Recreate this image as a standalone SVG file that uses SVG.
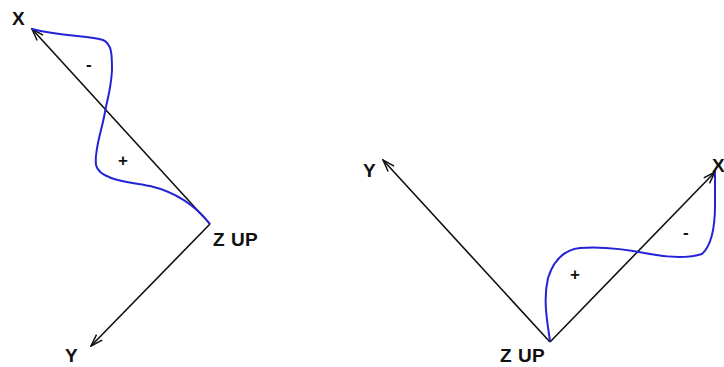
<svg xmlns="http://www.w3.org/2000/svg" width="724" height="367" viewBox="0 0 724 367">
<defs>
<marker id="arr" viewBox="0 0 14 10" refX="13" refY="5" markerWidth="14" markerHeight="10" markerUnits="userSpaceOnUse" orient="auto">
<path d="M1,1 L13,5 L1,9" fill="none" stroke="#111" stroke-width="1.5"/>
</marker>
</defs>
<style>
.ax{stroke:#111;stroke-width:1.6;fill:none;marker-end:url(#arr)}
.wave{stroke:#2424d6;stroke-width:2;fill:none}
.lbl{font-family:"Liberation Sans",Arial,sans-serif;font-weight:bold;font-size:19px;fill:#111}
.sgn{font-family:"Liberation Sans",Arial,sans-serif;font-weight:bold;font-size:17px;fill:#111}
</style>
<rect width="724" height="367" fill="#fff"/>
<g id="connectors">
<line class="ax" x1="210" y1="224" x2="32" y2="29"/>
<line class="ax" x1="210" y1="224" x2="91" y2="346"/>
<line class="ax" x1="550" y1="342" x2="383" y2="160"/>
<line class="ax" x1="550" y1="342" x2="715" y2="172"/>
</g>
<g id="wave-left">
<path class="wave" d="M32,29 C60,36 90,36 103,40 C112,44 112,55 112,70 C111,90 107,100 105,112 C102,130 94,150 96,165 C99,180 130,182 150,186 C175,192 195,205 210,224"/>
</g>
<g id="wave-right">
<path class="wave" d="M550,341 C547,320 543,300 548,278 C553,262 562,250 580,248 C605,246 630,250 650,254 C670,258 690,258 702,254 C712,245 715,225 715,205 C715,190 715,180 715,173"/>
</g>
<g id="labels-left">
<text class="lbl" x="12" y="25">X</text>
<text class="lbl" x="213" y="246" letter-spacing="0.5">Z UP</text>
<text class="lbl" x="65" y="362">Y</text>
<text class="sgn" x="86" y="70">-</text>
<text class="sgn" x="118" y="166">+</text>
</g>
<g id="labels-right">
<text class="lbl" x="363" y="177">Y</text>
<text class="lbl" x="712" y="172" font-size="13">X</text>
<text class="lbl" x="500" y="362" letter-spacing="0.5">Z UP</text>
<text class="sgn" x="570" y="280">+</text>
<text class="sgn" x="683" y="238">-</text>
</g>
</svg>
